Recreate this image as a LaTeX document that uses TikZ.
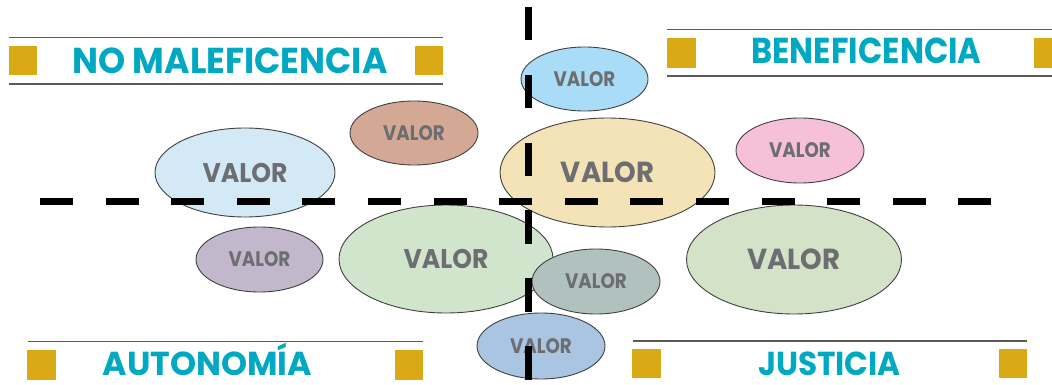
\documentclass[tikz,border=0pt]{standalone}
\usepackage{fontspec}
\usepackage{graphicx}
\setmainfont{Poppins}
\usetikzlibrary{shapes.geometric}
\definecolor{cyanT}{HTML}{00A9C1}
\definecolor{goldS}{HTML}{DAA916}
\definecolor{grayT}{HTML}{6D6E71}
\definecolor{lineG}{HTML}{5A5A5A}
\definecolor{cBlueTop}{HTML}{A9DDF7}
\definecolor{cBrown}{HTML}{D3A996}
\definecolor{cBlueL}{HTML}{D3E9F6}
\definecolor{cYellow}{HTML}{F3E3B6}
\definecolor{cPink}{HTML}{F6C0D8}
\definecolor{cPurple}{HTML}{C3B7CC}
\definecolor{cGreenC}{HTML}{D1E5CD}
\definecolor{cGrayG}{HTML}{B1C1BD}
\definecolor{cGreenR}{HTML}{D4E2C7}
\definecolor{cBlueB}{HTML}{A9C5E1}
\newcommand{\valA}{\fontsize{29}{30}\selectfont\bfseries\scalebox{0.95}[1]{VALOR}}
\newcommand{\valB}{\fontsize{27}{28}\selectfont\bfseries\scalebox{0.93}[1]{VALOR}}
\newcommand{\valS}{\fontsize{21}{22}\selectfont\bfseries\scalebox{0.87}[1]{VALOR}}
\tikzset{
  val/.style={ellipse, draw=black!75, line width=0.9pt, inner sep=0pt, text=grayT},
  sq/.style={fill=goldS, minimum width=28.5pt, minimum height=29.5pt, inner sep=0pt},
  head/.style={text=cyanT, inner sep=0pt, anchor=base},
  headT/.style={head, font=\fontsize{36}{38}\selectfont\bfseries},
  headB/.style={head, font=\fontsize{33.2}{35}\selectfont\bfseries},
  hline/.style={draw=lineG, line width=1.3pt},
  axis/.style={draw=black, line width=7pt}
}
\begin{document}
\begin{tikzpicture}[x=1pt,y=-1pt]
\useasboundingbox (0,0) rectangle (1052,385);
% ellipses
\node[val, fill=cBlueTop, minimum width=127pt, minimum height=64pt] (e1) at (584.5,79) {\valS};
\node[val, fill=cBrown, minimum width=128pt, minimum height=64pt] (e2) at (414,133) {\valS};
\node[val, fill=cBlueL, minimum width=180pt, minimum height=89pt] (e3) at (245,172.5) {\valB};
\node[val, fill=cYellow, minimum width=215pt, minimum height=109pt] (e4) at (607.5,172.5) {\valA};
\node[val, fill=cPink, minimum width=128pt, minimum height=65pt] (e5) at (800,150.5) {\valS};
\node[val, fill=cPurple, minimum width=127pt, minimum height=65pt] (e6) at (259.5,259.5) {\valS};
\node[val, fill=cGreenC, minimum width=214pt, minimum height=108pt] (e7) at (446,259) {\valB};
\node[val, fill=cGrayG, minimum width=128pt, minimum height=65pt] (e8) at (596,281.5) {\valS};
\node[val, fill=cGreenR, minimum width=215pt, minimum height=109pt] (e9) at (794,259.5) {\valA};
\node[val, fill=cBlueB, minimum width=128pt, minimum height=66pt] (e10) at (541,346) {\valS};
% headers
\draw[hline] (9,37.3) -- (443,37.3);
\draw[hline] (9,84) -- (443,84);
\node[sq] (s1a) at (23,60.7) {};
\node[sq] (s1b) at (429,60.7) {};
\node[headT] (h1) at (230,73.3) {\scalebox{0.96}[1]{NO MALEFICENCIA}};
\draw[hline] (667,29.3) -- (1052,29.3);
\draw[hline] (667,76) -- (1052,76);
\node[sq] (s2a) at (681.5,53) {};
\node[sq] (s2b) at (1048.5,53) {};
\node[headT] (h2) at (866.5,63.3) {\scalebox{0.89}[1]{BENEFICENCIA}};
\draw[hline] (28,341.7) -- (423,341.7);
\node[sq] (s3a) at (41.5,365) {};
\node[sq] (s3b) at (409,365) {};
\node[headB] (h3) at (207.5,375.5) {\scalebox{1.0}[1]{AUTONOMÍA}};
\draw[hline] (633,341) -- (1027,341);
\node[sq] (s4a) at (646.5,363.5) {};
\node[sq] (s4b) at (1013,363.5) {};
\node[headB] (h4) at (829.5,375.5) {\scalebox{0.94}[1]{JUSTICIA}};
% axes
\coordinate (hx1) at (40,201);
\coordinate (hx2) at (992,201);
\coordinate (vy1) at (528,7);
\coordinate (vy2) at (528,380);
\draw[axis, dash pattern=on 33pt off 32.6pt] (hx1) -- (hx2);
\draw[axis, dash pattern=on 33.5pt off 34.3pt] (vy1) -- (vy2);
\end{tikzpicture}
\end{document}
